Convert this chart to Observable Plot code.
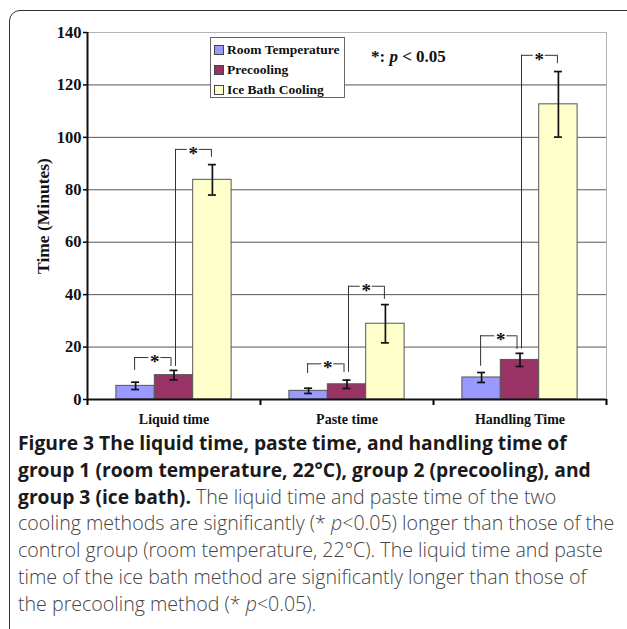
<!DOCTYPE html>
<html>
<head>
<meta charset="utf-8">
<script src="https://cdn.jsdelivr.net/npm/d3@7"></script>
<script src="https://cdn.jsdelivr.net/npm/@observablehq/plot@0.6"></script>
<style>
  html, body { margin: 0; padding: 0; background: #fff; }
  body { width: 627px; height: 629px; overflow: hidden; position: relative; }
  #frame { position: absolute; left: 9px; top: 10px; width: 640px; height: 640px;
           border: 1.6px solid #333; border-radius: 11px; box-sizing: border-box; }
  #chart { position: absolute; left: 0; top: 0; }
  #legend { position: absolute; left: 210px; top: 37px; width: 135px; height: 61px;
            border: 1px solid #666; background: #fff; box-sizing: border-box;
            font-family: "Liberation Serif", serif; font-weight: bold; font-size: 13.5px; color: #111; }
  #legend .item { position: absolute; left: 3px; height: 16px; line-height: 16px; white-space: nowrap; }
  #legend .sw { display: inline-block; width: 8px; height: 8px; border: 1px solid #444;
                vertical-align: middle; margin-right: 3px; position: relative; top: -1px; }
  #note { position: absolute; left: 371px; top: 47px; font-family: "Liberation Serif", serif;
          font-weight: bold; font-size: 17px; color: #111; white-space: nowrap; }
  #caption { position: absolute; left: 18px; top: 430px; font-family: "Open Sans", sans-serif;
             font-size: 19.6px; line-height: 26.8px; color: #444; white-space: nowrap; font-weight: 300; }
  #caption b { color: #1a1a1a; font-weight: 700; font-size: 19.25px; }
</style>
</head>
<body>
<div id="frame"></div>
<div id="chart"></div>
<div id="legend"></div>
<div id="note">*: <i>p</i> &lt; 0.05</div>
<div id="caption">
<b>Figure 3 The liquid time, paste time, and handling time of</b><br>
<b>group 1 (room temperature, 22°C), group 2 (precooling), and</b><br>
<b>group 3 (ice bath).</b> The liquid time and paste time of the two<br>
cooling methods are significantly (* <i>p</i>&lt;0.05) longer than those of the<br>
control group (room temperature, 22°C). The liquid time and paste<br>
time of the ice bath method are significantly longer than those of<br>
the precooling method (* <i>p</i>&lt;0.05).
</div>
<script>
// ---- data ----
const categories = ["Liquid time", "Paste time", "Handling Time"];
const groups = ["Room Temperature", "Precooling", "Ice Bath Cooling"];
const colors = ["#9999ff", "#993366", "#ffffcc"];

const roomTemp      = [5.2, 3.3, 8.4];
const roomTempErr   = [1.4, 1.0, 1.9];
const precooling    = [9.3, 5.8, 15.1];
const precoolingErr = [1.8, 1.6, 2.5];
const iceBath       = [83.8, 28.9, 112.6];
const iceBathErr    = [5.8, 7.3, 12.5];

// significance brackets: Room Temperature vs Precooling
const lowBracketY     = [16.0, 13.6, 24.3];
const lowBracketLeft  = [11.1, 9.9, 12.7];
const lowBracketRight = [12.6, 10.3, 19.1];
// Precooling vs Ice Bath Cooling
const highBracketY     = [95.4, 43.2, 131.3];
const highBracketLeft  = [12.6, 10.4, 19.3];
const highBracketRight = [92.4, 38.2, 128.1];

const yTicks = [0, 20, 40, 60, 80, 100, 120, 140];

// ---- build tables ----
const barW = 0.222; // bar width as a fraction of a category band
const center = (i, j) => i + 0.5 + (j - 1) * barW;
const seriesVals = [roomTemp, precooling, iceBath];
const seriesErr = [roomTempErr, precoolingErr, iceBathErr];
const bars = [];
categories.forEach((c, i) => groups.forEach((g, j) => {
  bars.push({cat: c, i, j, group: g, value: seriesVals[j][i], err: seriesErr[j][i]});
}));
const lowB = categories.map((c, i) => ({i, a: 0, b: 1, y: lowBracketY[i], yA: lowBracketLeft[i], yB: lowBracketRight[i]}));
const highB = categories.map((c, i) => ({i, a: 1, b: 2, y: highBracketY[i], yA: highBracketLeft[i], yB: highBracketRight[i]}));

function bracketMarks(data, dxL, dxR) {
  const xa = d => center(d.i, d.a), xb = d => center(d.i, d.b);
  const mid = d => (xa(d) + xb(d)) / 2;
  const st = {stroke: "#333", strokeWidth: 1};
  return [
    Plot.ruleX(data, {x: xa, y1: d => d.yA, y2: d => d.y, dx: dxL, ...st}),
    Plot.ruleX(data, {x: xb, y1: d => d.yB, y2: d => d.y, dx: dxR, ...st}),
    Plot.ruleY(data, {x1: xa, x2: mid, y: d => d.y, insetLeft: dxL, insetRight: 6, ...st}),
    Plot.ruleY(data, {x1: mid, x2: xb, y: d => d.y, insetLeft: 6, insetRight: -dxR, ...st}),
    Plot.text(data, {x: mid, y: d => d.y, text: () => "*", fontSize: 19, fontWeight: "bold", dy: 4.5, fill: "#111"})
  ];
}

const chart = Plot.plot({
  width: 627, height: 430,
  marginLeft: 87, marginRight: 21, marginTop: 32, marginBottom: 31,
  style: {fontFamily: "Liberation Serif, serif", background: "transparent", fontSize: "14px", fontWeight: "bold"},
  x: {domain: [0, 3], axis: null},
  y: {domain: [0, 140], axis: null},
  marks: [
    Plot.ruleY(yTicks.filter(t => t > 0 && t < 140), {stroke: "#555", strokeWidth: 1}),
    Plot.ruleY([140], {stroke: "#b5b5b5", strokeWidth: 1}),
    Plot.ruleX([3], {stroke: "#b5b5b5", strokeWidth: 1}),
    Plot.rectY(bars, {x1: d => center(d.i, d.j) - barW / 2, x2: d => center(d.i, d.j) + barW / 2,
      y1: 0, y2: "value", fill: d => colors[d.j], stroke: "#555", strokeWidth: 1}),
    Plot.ruleX(bars, {x: d => center(d.i, d.j), y1: d => d.value - d.err, y2: d => d.value + d.err, stroke: "#111", strokeWidth: 1.7}),
    Plot.ruleY(bars, {x1: d => center(d.i, d.j), x2: d => center(d.i, d.j), y: d => d.value + d.err, insetLeft: -4, insetRight: -4, stroke: "#111", strokeWidth: 1.7}),
    Plot.ruleY(bars, {x1: d => center(d.i, d.j), x2: d => center(d.i, d.j), y: d => d.value - d.err, insetLeft: -4, insetRight: -4, stroke: "#111", strokeWidth: 1.7}),
    ...bracketMarks(lowB, -1, -3),
    ...bracketMarks(highB, 1.5, -1),
    Plot.axisY({ticks: yTicks, tickSize: 4, tickFormat: () => "", strokeWidth: 1.5, label: null}),
    Plot.text(yTicks, {x: 0, y: d => d, text: d => String(d), dx: -6, textAnchor: "end", fontSize: 16.5, fontWeight: "bold", fill: "#111"}),
    Plot.ruleX([0], {stroke: "#111", strokeWidth: 2}),
    Plot.axisX({ticks: [0, 1, 2, 3], tickSize: 6, tickFormat: () => "", strokeWidth: 2, label: null}),
    Plot.axisX({ticks: [0.5, 1.5, 2.5], tickSize: 0, tickPadding: 15, tickFormat: d => categories[Math.floor(d)], fontSize: 14, fontWeight: "bold", label: null, fill: "#111"}),
    Plot.ruleY([0], {stroke: "#111", strokeWidth: 2}),
    Plot.text(["Time (Minutes)"], {text: d => d, frameAnchor: "left", textAnchor: "middle", dx: -44, rotate: -90, fontSize: 17.5, fontWeight: "bold", lineAnchor: "middle", fill: "#111"})
  ]
});
document.getElementById("chart").appendChild(chart);

// legend
const legend = document.getElementById("legend");
groups.forEach((g, j) => {
  const it = document.createElement("div");
  it.className = "item";
  it.style.top = (4 + j * 20) + "px";
  it.innerHTML = `<span class="sw" style="background:${colors[j]}"></span>${g}`;
  legend.appendChild(it);
});
</script>
</body>
</html>
